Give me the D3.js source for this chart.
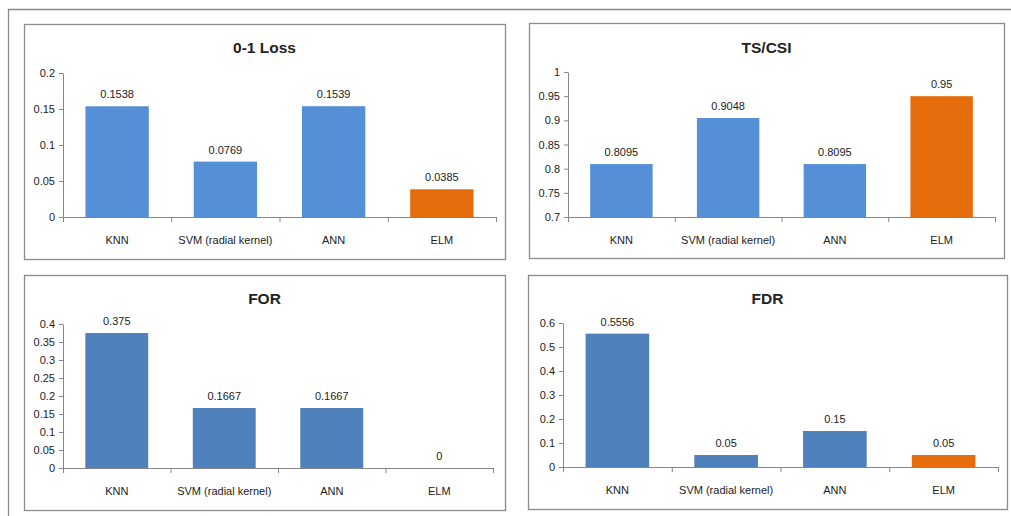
<!DOCTYPE html>
<html>
<head>
<meta charset="utf-8">
<script src="https://cdn.jsdelivr.net/npm/d3@7"></script>
<style>
  html, body { margin: 0; padding: 0; background: #fff; }
  svg { display: block; }
  text { font-family: "Liberation Sans", Arial, sans-serif; fill: #222; }
</style>
</head>
<body>
<svg id="chart" width="1011" height="516"></svg>
<script>
// ---- data ----
const categories = ["KNN", "SVM (radial kernel)", "ANN", "ELM"];
const lossValues = [0.1538, 0.0769, 0.1539, 0.0385];
const tsCsiValues = [0.8095, 0.9048, 0.8095, 0.95];
const forValues = [0.375, 0.1667, 0.1667, 0];
const fdrValues = [0.5556, 0.05, 0.15, 0.05];
const lossTicks = [0, 0.05, 0.1, 0.15, 0.2];
const tsCsiTicks = [0.7, 0.75, 0.8, 0.85, 0.9, 0.95, 1];
const forTicks = [0, 0.05, 0.1, 0.15, 0.2, 0.25, 0.3, 0.35, 0.4];
const fdrTicks = [0, 0.1, 0.2, 0.3, 0.4, 0.5, 0.6];
const titles = ["0-1 Loss", "TS/CSI", "FOR", "FDR"];

// ---- layout / style ----
const lightBlue = "#5590D6";
const darkBlue = "#4F81BD";
const orange = "#E46C0A";

const panels = [
  { title: titles[0], values: lossValues, ticks: lossTicks, blue: lightBlue,
    box: [24, 24, 505, 259], x0: 63, x1: 496, y0: 217, y1: 73, titleY: 47 },
  { title: titles[1], values: tsCsiValues, ticks: tsCsiTicks, blue: lightBlue,
    box: [529, 23, 1004, 258], x0: 568, x1: 995, y0: 217, y1: 72, titleY: 47 },
  { title: titles[2], values: forValues, ticks: forTicks, blue: darkBlue,
    box: [24, 275, 505, 510], x0: 63, x1: 493, y0: 468, y1: 324, titleY: 298 },
  { title: titles[3], values: fdrValues, ticks: fdrTicks, blue: darkBlue,
    box: [528, 275, 1007, 509], x0: 563, x1: 998, y0: 467, y1: 323, titleY: 298 }
];

const svg = d3.select("#chart");

// outer frame lines of the composite image
svg.append("path")
  .attr("d", "M8.5,516 V9.5 H1011")
  .attr("fill", "none").attr("stroke", "#8a8a8a").attr("stroke-width", 1.3);

panels.forEach(p => {
  const g = svg.append("g");
  const [bx0, by0, bx1, by1] = p.box;
  g.append("rect")
    .attr("x", bx0 + 0.5).attr("y", by0 + 0.5)
    .attr("width", bx1 - bx0).attr("height", by1 - by0)
    .attr("fill", "#fff").attr("stroke", "#8c8c8c").attr("stroke-width", 1.3);

  g.append("text")
    .attr("x", (bx0 + bx1) / 2).attr("y", p.titleY)
    .attr("text-anchor", "middle").attr("dominant-baseline", "central")
    .attr("font-size", 15.5).attr("font-weight", "bold")
    .text(p.title);

  const x = d3.scaleBand().domain(categories).range([p.x0, p.x1])
    .paddingInner(0.415).paddingOuter(0.2075);
  const xOuter = d3.scaleBand().domain(categories).range([p.x0, p.x1]);
  const y = d3.scaleLinear()
    .domain([p.ticks[0], p.ticks[p.ticks.length - 1]])
    .range([p.y0, p.y1]);

  // bars
  g.selectAll("rect.bar").data(p.values).join("rect")
    .attr("class", "bar")
    .attr("x", (d, i) => x(categories[i]))
    .attr("width", x.bandwidth())
    .attr("y", d => y(d))
    .attr("height", d => y(p.ticks[0]) - y(d))
    .attr("fill", (d, i) => categories[i] === "ELM" ? orange : p.blue);

  // value labels
  g.selectAll("text.val").data(p.values).join("text")
    .attr("class", "val")
    .attr("x", (d, i) => x(categories[i]) + x.bandwidth() / 2)
    .attr("y", d => y(d) - 8)
    .attr("text-anchor", "middle")
    .attr("font-size", 11)
    .text(d => String(d));

  // y axis
  const yAxis = d3.axisLeft(y).tickValues(p.ticks).tickFormat(d => String(+d.toFixed(2)))
    .tickSize(4).tickSizeOuter(0).tickPadding(4);
  const ya = g.append("g").attr("transform", `translate(${p.x0},0)`).call(yAxis);
  ya.select(".domain").attr("stroke", "#868686");
  ya.selectAll(".tick line").attr("stroke", "#868686");
  ya.selectAll(".tick text").attr("font-size", 11)
    .attr("font-family", "'Liberation Sans', Arial, sans-serif").attr("fill", "#222");

  // x axis line with category boundary ticks
  g.append("line")
    .attr("x1", p.x0).attr("x2", p.x1).attr("y1", p.y0 + 0.5).attr("y2", p.y0 + 0.5)
    .attr("stroke", "#868686");
  const bounds = categories.map(c => xOuter(c)).concat([p.x1]);
  g.selectAll("line.xt").data(bounds).join("line")
    .attr("class", "xt")
    .attr("x1", d => d + 0.5).attr("x2", d => d + 0.5)
    .attr("y1", p.y0).attr("y2", p.y0 + 5)
    .attr("stroke", "#868686");
  g.selectAll("text.cat").data(categories).join("text")
    .attr("class", "cat")
    .attr("x", d => xOuter(d) + xOuter.bandwidth() / 2)
    .attr("y", p.y0 + 23)
    .attr("text-anchor", "middle").attr("dominant-baseline", "central")
    .attr("font-size", 11)
    .text(d => d);
});
</script>
</body>
</html>
